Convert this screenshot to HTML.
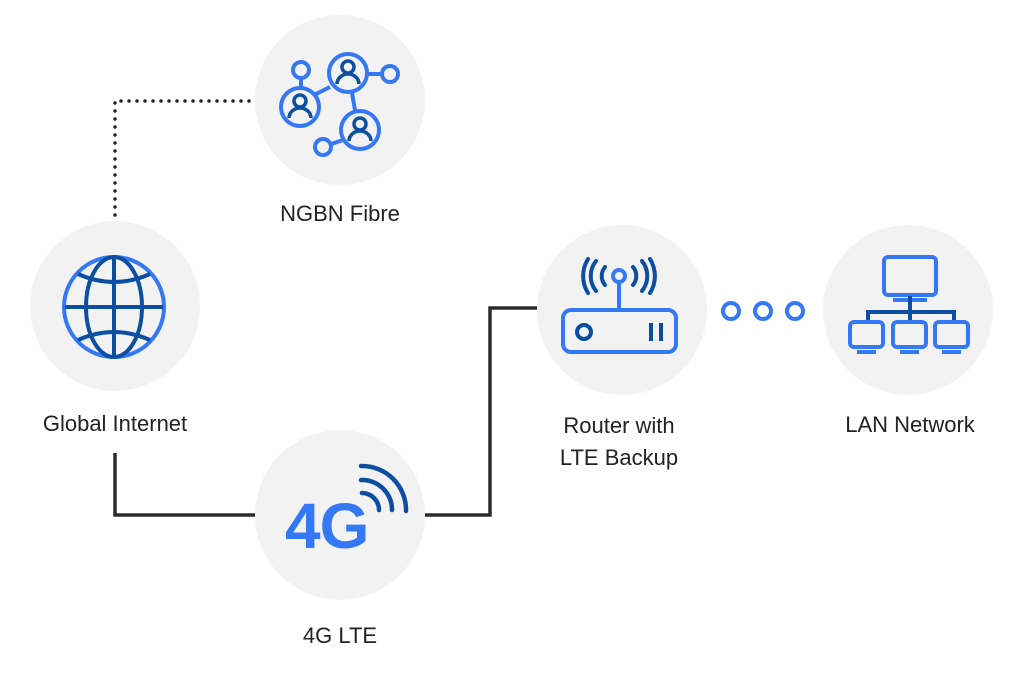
<!DOCTYPE html>
<html><head><meta charset="utf-8"><style>
body{margin:0;background:#fff;}
svg{display:block}
text{font-family:"Liberation Sans",sans-serif;font-size:22px;fill:#222;}
</style></head><body>
<svg width="1024" height="682" viewBox="0 0 1024 682">
<g fill="#f2f2f2">
<circle cx="340" cy="100" r="85"/>
<circle cx="115" cy="306" r="85"/>
<circle cx="340" cy="515" r="85"/>
<circle cx="622" cy="310" r="85"/>
<circle cx="908" cy="310" r="85"/>
</g>
<path d="M115 215 V101 H255" fill="none" stroke="#222" stroke-width="3.5" stroke-dasharray="0 8" stroke-linecap="round"/>
<path d="M115 453 V515 H255" fill="none" stroke="#2b2b2b" stroke-width="3.5"/>
<path d="M425 515 H490 V308 H537" fill="none" stroke="#2b2b2b" stroke-width="3.5"/>
<g fill="none" stroke="#3478f6" stroke-width="4">
<circle cx="731" cy="311" r="8"/><circle cx="763" cy="311" r="8"/><circle cx="795" cy="311" r="8"/>
</g>
<g fill="none" stroke-width="4">
<g stroke="#3478f6">
<line x1="301" y1="80" x2="301" y2="88"/>
<line x1="314" y1="95" x2="330" y2="87"/>
<line x1="368" y1="74" x2="382" y2="74"/>
<line x1="352" y1="93" x2="355" y2="110"/>
<line x1="331" y1="144" x2="343" y2="140"/>
<circle cx="301" cy="70" r="8"/>
<circle cx="300" cy="107" r="19"/>
<circle cx="348" cy="73" r="19"/>
<circle cx="360" cy="130" r="19"/>
<circle cx="390" cy="74" r="8"/>
<circle cx="323" cy="147" r="8"/>
</g>
<g stroke="#0b4ea2" stroke-width="3.5">
<circle cx="300" cy="101" r="6"/><path d="M289 118 a11 10 0 0 1 22 0"/>
<circle cx="348" cy="67" r="6"/><path d="M337 84 a11 10 0 0 1 22 0"/>
<circle cx="360" cy="124" r="6"/><path d="M349 141 a11 10 0 0 1 22 0"/>
</g>
</g>
<g fill="none" stroke-width="4">
<circle cx="114" cy="307" r="50" stroke="#3478f6"/>
<g stroke="#0b4ea2">
<ellipse cx="114" cy="307" rx="28" ry="50"/>
<line x1="114" y1="257" x2="114" y2="357"/>
<line x1="65" y1="307" x2="163" y2="307"/>
<path d="M78 274 Q114 290 150 274"/>
<path d="M78 340 Q114 324 150 340"/>
</g>
</g>
<text x="285" y="548" style="font-size:64px;font-weight:bold;fill:#3478f6;letter-spacing:-1px">4G</text>
<g fill="none" stroke="#0b4ea2" stroke-width="4.5" stroke-linecap="round">
<path d="M362 493 A17 17 0 0 1 379 510"/>
<path d="M361 480 A30 30 0 0 1 392 510"/>
<path d="M361 466 A44 44 0 0 1 406 511"/>
</g>
<g fill="none" stroke-width="4">
<rect x="563" y="310" width="113" height="42" rx="8" stroke="#3478f6"/>
<line x1="619" y1="282" x2="619" y2="310" stroke="#3478f6"/>
<circle cx="619" cy="276" r="6" stroke="#3478f6"/>
<circle cx="584" cy="332" r="7" stroke="#0b4ea2"/>
<line x1="651" y1="323" x2="651" y2="341" stroke="#0b4ea2"/>
<line x1="661" y1="323" x2="661" y2="341" stroke="#0b4ea2"/>
<g stroke="#0b4ea2" stroke-linecap="round">
<path d="M605 267 a14 14 0 0 0 0 18"/><path d="M596 261 a24 24 0 0 0 0 30"/><path d="M588 259 a32 32 0 0 0 0 34"/>
<path d="M633 267 a14 14 0 0 1 0 18"/><path d="M642 261 a24 24 0 0 1 0 30"/><path d="M650 259 a32 32 0 0 1 0 34"/>
</g>
</g>
<g fill="none" stroke-width="4">
<rect x="884" y="257" width="52" height="38" rx="4" stroke="#3478f6"/>
<line x1="893" y1="300" x2="927" y2="300" stroke="#3478f6"/>
<path d="M910 296 V312 M868 320 V312 H954 V320 M910 312 V320" stroke="#0b4ea2"/>
<rect x="850" y="322" width="33" height="25" rx="4" stroke="#3478f6"/>
<rect x="893" y="322" width="33" height="25" rx="4" stroke="#3478f6"/>
<rect x="935" y="322" width="33" height="25" rx="4" stroke="#3478f6"/>
<line x1="857" y1="352" x2="876" y2="352" stroke="#3478f6"/>
<line x1="900" y1="352" x2="919" y2="352" stroke="#3478f6"/>
<line x1="942" y1="352" x2="961" y2="352" stroke="#3478f6"/>
</g>
<text x="340" y="221" text-anchor="middle">NGBN Fibre</text>
<text x="115" y="431" text-anchor="middle">Global Internet</text>
<text x="340" y="643" text-anchor="middle">4G LTE</text>
<text x="619" y="433" text-anchor="middle">Router with</text>
<text x="619" y="465" text-anchor="middle">LTE Backup</text>
<text x="910" y="432" text-anchor="middle">LAN Network</text>
</svg>
</body></html>
